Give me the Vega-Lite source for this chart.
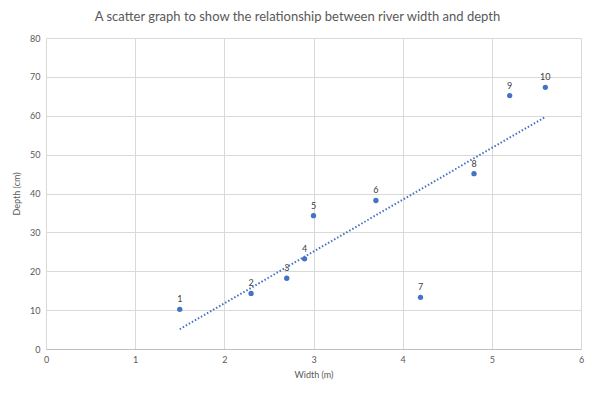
{
  "$schema": "https://vega.github.io/schema/vega-lite/v6.json",
  "width": 535,
  "height": 311,
  "autosize": {"type": "none"},
  "padding": {"left": 46, "top": 38, "right": 14, "bottom": 45},
  "background": "white",
  "config": {
    "font": "Lato",
    "view": {"stroke": null},
    "axis": {
      "gridColor": "#d9d9d9",
      "gridWidth": 1,
      "ticks": false,
      "labelColor": "#595959",
      "labelFontSize": 9,
      "titleColor": "#595959",
      "titleFontSize": 9,
      "titleFontWeight": "normal",
      "labelFont": "Lato",
      "titleFont": "Lato",
      "labelOverlap": false,
      "labelFlush": false
    }
  },
  "title": {
    "text": "A scatter graph to show the relationship between river width and depth",
    "fontSize": 13,
    "fontWeight": "normal",
    "color": "#595959",
    "font": "Lato",
    "anchor": "middle",
    "dx": -16,
    "offset": 10
  },
  "data": {
    "values": [
      {"width": 1.5, "depth": 10.2, "label": "1"},
      {"width": 2.3, "depth": 14.3, "label": "2"},
      {"width": 2.7, "depth": 18.2, "label": "3"},
      {"width": 2.9, "depth": 23.2, "label": "4"},
      {"width": 3.0, "depth": 34.3, "label": "5"},
      {"width": 3.7, "depth": 38.2, "label": "6"},
      {"width": 4.2, "depth": 13.3, "label": "7"},
      {"width": 4.8, "depth": 45.1, "label": "8"},
      {"width": 5.2, "depth": 65.2, "label": "9"},
      {"width": 5.6, "depth": 67.3, "label": "10"}
    ]
  },
  "encoding": {
    "x": {
      "field": "width", "type": "quantitative",
      "scale": {"domain": [0, 6], "nice": false},
      "axis": {"tickCount": 6, "format": "d", "title": "Width (m)", "domainColor": "#bfbfbf", "labelPadding": 6, "titlePadding": 6}
    },
    "y": {
      "field": "depth", "type": "quantitative",
      "scale": {"domain": [0, 80], "nice": false},
      "axis": {"tickCount": 8, "format": "d", "title": "Depth (cm)", "domain": false, "labelPadding": 6, "titlePadding": 8}
    }
  },
  "layer": [
    {
      "mark": {"type": "point", "filled": true, "opacity": 1, "size": 28, "color": "#4472c4"}
    },
    {
      "mark": {"type": "text", "dy": -10, "fontSize": 9, "color": "#404040", "font": "Lato"},
      "encoding": {
        "text": {"field": "label"}
      }
    },
    {
      "transform": [{"regression": "depth", "on": "width"}],
      "mark": {"type": "line", "color": "#4472c4", "strokeWidth": 2, "strokeDash": [1.5, 2]}
    }
  ]
}
